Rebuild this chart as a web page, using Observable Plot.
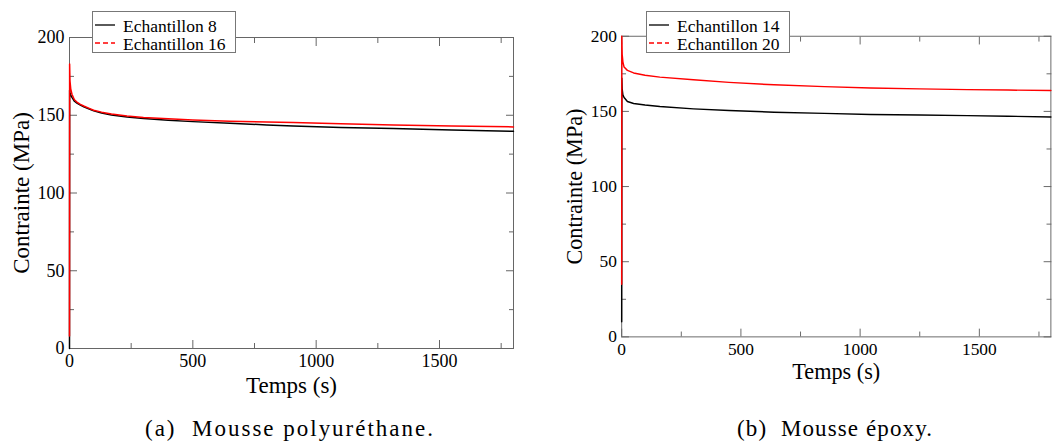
<!DOCTYPE html>
<html><head><meta charset="utf-8">
<script src="https://cdn.jsdelivr.net/npm/d3@7"></script>
<script src="https://cdn.jsdelivr.net/npm/@observablehq/plot@0.6"></script>
<style>
html,body{margin:0;padding:0;background:#fff;overflow:hidden;}
#wrap{position:relative;width:1062px;height:441px;overflow:hidden;font-family:"Liberation Serif","Times New Roman",serif;background:#fff;}
.panel{position:absolute;top:0;}
.panel svg, .panel svg text{font-family:"Liberation Serif","Times New Roman",serif !important;}
</style>
</head><body>
<div id="wrap"></div>
<script>
// ---- data ----
const xMajorTicks = [0, 500, 1000, 1500];
const xMinorTicks = [250, 750, 1250, 1750];
const yMajorTicks = [0, 50, 100, 150, 200];
const yMinorTicks = [25, 75, 125, 175];

// Panel (a) Mousse polyuréthane
const timeA = [0, 0.5, 2, 5, 10, 20, 30, 44, 60, 80, 98, 130, 170, 233, 300, 400, 500, 650, 800, 907, 1100, 1313, 1550, 1800];
const ech8  = [0, 166, 164.5, 163, 161.5, 159, 157.8, 156.5, 155.2, 154, 152.8, 151.5, 150.2, 148.9, 147.9, 146.8, 145.9, 144.8, 143.8, 143.1, 142.2, 141.4, 140.5, 139.7];
const ech16 = [8, 183, 172, 167, 163.5, 160, 158.5, 157, 155.8, 154.4, 153.2, 152, 150.8, 149.5, 148.6, 147.7, 147, 146.2, 145.6, 145.3, 144.5, 143.8, 143.1, 142.5];

// Panel (b) Mousse époxy
const timeB = [0, 0.5, 2, 5, 10, 24, 50, 98, 160, 301, 450, 639, 850, 1044, 1250, 1450, 1620, 1800];
const ech14 = [10, 172, 165, 161, 159.2, 156.6, 155.3, 154.2, 153.2, 151.7, 150.6, 149.5, 148.7, 148, 147.6, 147.2, 146.8, 146.3];
const ech20 = [35, 200, 188, 183, 179.5, 177.3, 175.6, 174.1, 172.8, 171, 169.3, 167.7, 166.5, 165.6, 165, 164.5, 164.2, 163.9];

const seriesColors = ["#000000", "#ff0000"];
const seriesDash = [null, "5,3"];
const xTitle = "Temps (s)";
const yTitle = "Contrainte (MPa)";
const captions = ["(a)  Mousse polyuréthane.", "(b)  Mousse époxy."];

const serif = "'Liberation Serif', 'Times New Roman', serif";

const panels = [
  {times: timeA, series: [{name: "Echantillon 8", values: ech8}, {name: "Echantillon 16", values: ech16}],
   left: 0, marginLeft: 69, marginRight: 27, legendLeft: 92, captionX: 145, captionW: 288},
  {times: timeB, series: [{name: "Echantillon 14", values: ech14}, {name: "Echantillon 20", values: ech20}],
   left: 540, marginLeft: 84, marginRight: 12, legendLeft: 646, captionX: 737, captionW: 195}
];

const wrap = document.getElementById("wrap");
const axisStroke = "#666";
const fmt = d => String(d);

// caption layer
const capLayer = d3.create("svg").attr("width", 1062).attr("height", 441)
  .style("position", "absolute").style("left", "0px").style("top", "0px").style("pointer-events", "none");

panels.forEach((p, k) => {
  const names = p.series.map(s => s.name);
  const data = p.series.flatMap(s => s.values.map((v, i) => ({t: p.times[i], v, name: s.name})));
  const chart = Plot.plot({
    width: 540, height: 400,
    marginLeft: p.marginLeft, marginRight: p.marginRight, marginTop: 37, marginBottom: 52,
    x: {domain: [0, 1800]},
    y: {domain: [0, 200]},
    color: {domain: names, range: seriesColors},
    style: {fontFamily: serif, fontSize: "18px", color: "#000", background: "transparent", overflow: "visible"},
    marks: [
      Plot.frame({stroke: axisStroke, strokeWidth: 1}),
      Plot.axisX({anchor: "bottom", ticks: xMajorTicks, tickSize: -8, tickPadding: 14, tickFormat: fmt, stroke: axisStroke, fill: "#000", label: null, fontSize: 18}),
      Plot.axisX({anchor: "bottom", ticks: xMinorTicks, tickSize: -5, tickFormat: () => "", stroke: axisStroke, label: null}),
      Plot.axisX({anchor: "top", ticks: xMajorTicks, tickSize: -8, tickFormat: () => "", stroke: axisStroke, label: null}),
      Plot.axisX({anchor: "top", ticks: xMinorTicks, tickSize: -5, tickFormat: () => "", stroke: axisStroke, label: null}),
      Plot.axisY({anchor: "left", ticks: yMajorTicks, tickSize: -8, tickPadding: 13, tickFormat: fmt, stroke: axisStroke, fill: "#000", label: null, fontSize: 18}),
      Plot.axisY({anchor: "left", ticks: yMinorTicks, tickSize: -5, tickFormat: () => "", stroke: axisStroke, label: null}),
      Plot.axisY({anchor: "right", ticks: yMajorTicks, tickSize: -8, tickFormat: () => "", stroke: axisStroke, label: null}),
      Plot.axisY({anchor: "right", ticks: yMinorTicks, tickSize: -5, tickFormat: () => "", stroke: axisStroke, label: null}),
      Plot.axisX({anchor: "bottom", ticks: [], tickSize: 0, label: xTitle, labelAnchor: "center", labelArrow: "none", labelOffset: 44, fontSize: 23, fill: "#000"}),
      Plot.axisY({anchor: "left", ticks: [], tickSize: 0, label: yTitle, labelAnchor: "center", labelArrow: "none", labelOffset: 57, fontSize: 23, fill: "#000"}),
      Plot.line(data, {x: "t", y: "v", z: "name", stroke: "name", strokeWidth: 1.5})
    ]
  });
  const holder = document.createElement("div");
  holder.className = "panel";
  holder.style.left = p.left + "px";
  holder.appendChild(chart);
  wrap.appendChild(holder);

  // legend box
  const lg = d3.create("svg").attr("width", 145).attr("height", 43)
    .style("left", p.legendLeft + "px").style("position", "absolute").style("top", "11px");
  lg.append("rect").attr("x", 0.5).attr("y", 0.5).attr("width", 143).attr("height", 41)
    .attr("fill", "#fff").attr("stroke", "#777");
  p.series.forEach((s, i) => {
    const yy = 14 + i * 18;
    lg.append("line").attr("x1", 3).attr("x2", 23).attr("y1", yy).attr("y2", yy)
      .attr("stroke", seriesColors[i]).attr("stroke-width", 1.3)
      .attr("stroke-dasharray", seriesDash[i]);
    lg.append("text").attr("x", 31).attr("y", yy + 6.5).text(s.name)
      .style("font-family", serif).attr("font-size", 17.5).attr("fill", "#000");
  });
  wrap.appendChild(lg.node());

  capLayer.append("text")
    .attr("x", p.captionX).attr("y", 436)
    .attr("textLength", p.captionW).attr("lengthAdjust", "spacing")
    .attr("font-size", 23).style("font-family", serif).attr("fill", "#000")
    .style("white-space", "pre")
    .text(captions[k]);
});
wrap.appendChild(capLayer.node());
</script>
</body></html>
